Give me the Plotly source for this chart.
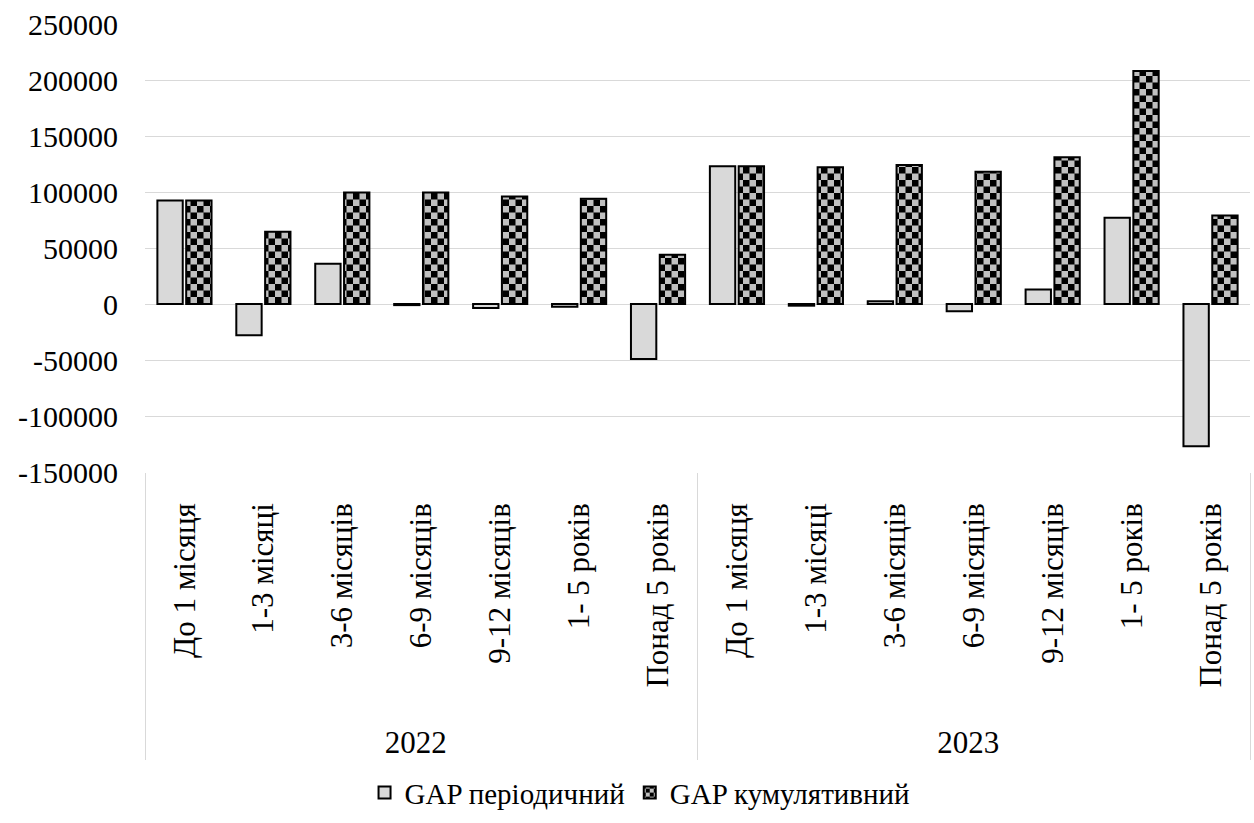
import plotly.graph_objects as go

# Maturity buckets and the two reporting years
years = ["2022", "2023"]
periods = ["До 1 місяця", "1-3 місяці", "3-6 місяців", "6-9 місяців",
           "9-12 місяців", "1- 5 років", "Понад 5 років"]

# GAP values per bucket
gap_periodic_2022 = [92500, -28000, 36000, -1000, -3500, -2500, -49000]
gap_cumulative_2022 = [92500, 64500, 99500, 99500, 96000, 94000, 44000]
gap_periodic_2023 = [123000, -1500, 2500, -6500, 13000, 77000, -127000]
gap_cumulative_2023 = [123000, 122000, 124000, 118000, 131000, 208000, 79000]

# Value axis ticks
y_ticks = [-150000, -100000, -50000, 0, 50000, 100000, 150000, 200000, 250000]
y_tick_text = ["-150000", "-100000", "-50000", "0", "50000", "100000",
               "150000", "200000", "250000"]

# Rotated bucket labels get a little non-breaking lead-in so the year row
# sits further below them
LEAD = "\u00a0" * 4
x_years = [y for y in years for _ in periods]
x_periods = [LEAD + p for p in periods] * len(years)
x = [x_years, x_periods]

FONT = "Liberation Serif"

fig = go.Figure()
fig.add_trace(go.Bar(
    name="GAP періодичний",
    x=x,
    y=gap_periodic_2022 + gap_periodic_2023,
    marker=dict(color="#d9d9d9", line=dict(color="black", width=2)),
))
fig.add_trace(go.Bar(
    name="GAP кумулятивний",
    x=x,
    y=gap_cumulative_2022 + gap_cumulative_2023,
    marker=dict(
        color="#c0c0c0",
        line=dict(color="black", width=2),
        pattern=dict(shape="+", fgcolor="black", bgcolor="#c0c0c0",
                     size=13, solidity=0.5, fillmode="replace"),
    ),
))

fig.update_layout(
    width=1254, height=823,
    margin=dict(l=145, r=4, t=24, b=340),
    paper_bgcolor="white", plot_bgcolor="white",
    barmode="group", bargap=0.27, bargroupgap=0.12,
    font=dict(family=FONT, size=30, color="black"),
    showlegend=True,
    legend=dict(orientation="h", x=0.448, xanchor="center",
                y=-0.716, yanchor="middle",
                font=dict(family=FONT, size=29, color="black"),
                itemwidth=30, traceorder="normal"),
)
fig.update_yaxes(
    range=[-150000, 250000],
    tickmode="array", tickvals=y_ticks, ticktext=y_tick_text,
    showgrid=True, gridcolor="#d9d9d9", gridwidth=1,
    zeroline=True, zerolinecolor="#d9d9d9", zerolinewidth=1,
    showline=False, ticks="", ticklabelstandoff=26,
    tickfont=dict(family=FONT, size=30, color="black"),
)
fig.update_xaxes(
    type="multicategory",
    tickangle=-90,
    showgrid=False, showline=False, ticks="",
    showdividers=True, dividercolor="#d9d9d9", dividerwidth=1,
    tickfont=dict(family=FONT, size=31, color="black"),
    ticklabelstandoff=24,
)

# Checkerboard fill for the cumulative series
post_js = """
var gd = document.getElementById('{plot_id}');
function checkerTiles() {
  gd.querySelectorAll('pattern').forEach(function (p) {
    var s = parseFloat(p.getAttribute('width'));
    var h = s / 2;
    var path = p.querySelector('path');
    if (!path) return;
    path.setAttribute('d', 'M0,0H' + h + 'V' + h + 'H0Z M' + h + ',' + h + 'H' + s + 'V' + s + 'H' + h + 'Z');
    path.style.fill = 'black';
    path.style.stroke = 'none';
    path.style.strokeWidth = '0';
  });
}
checkerTiles();
gd.on('plotly_afterplot', checkerTiles);
"""

fig.write_html("out.html", post_script=post_js)
